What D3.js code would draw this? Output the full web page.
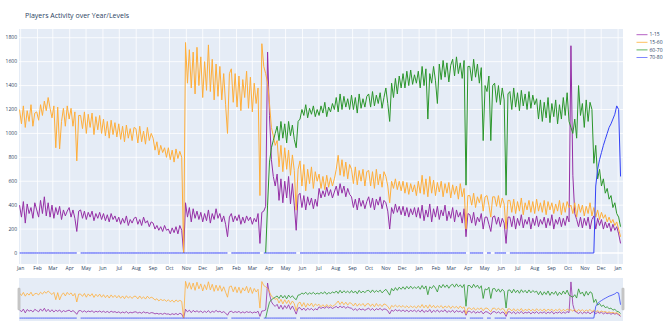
<!DOCTYPE html>
<html><head><meta charset="utf-8">
<script src="https://cdn.jsdelivr.net/npm/d3@7"></script>
<style>body{margin:0;background:#fff}svg{display:block}text{font-family:"Open Sans",sans-serif}</style>
</head><body><svg id="c" width="665" height="327"></svg>
<script>
const chartTitle = "Players Activity over Year/Levels";
const seriesNames = ["1-15", "15-60", "60-70", "70-80"];
const seriesColors = ["#952fa6", "#ffae3a", "#2b962b", "#3342f7"];
const legendColors = ["#b560c4", "#ffc060", "#5fb55f", "#7f88ff"];
const startDate = "2018-12-30";
const stepDays = 3.5;
const seriesStartStep = [0, 0, 129, 0];
const yTicks = [0, 200, 400, 600, 800, 1000, 1200, 1400, 1600, 1800];

const lvl1_15 = [
  400,300,430,250,410,330,380,290,420,
  360,300,440,330,470,310,420,300,
  400,290,380,320,390,280,360,310,350,
  380,300,360,290,180,350,
  360,290,350,280,340,300,350,270,330,290,340,280,
  330,270,320,260,330,280,310,260,
  300,240,290,250,310,230,280,250,290,
  300,240,280,230,300,250,270,220,260,
  250,200,230,190,220,180,230,190,
  200,160,210,170,220,160,230,190,0,
  420,300,380,260,370,290,350,280,340,260,330,270,360,250,330,280,370,290,
  330,260,310,240,136,300,
  330,260,310,270,320,240,300,250,310,270,300,240,290,260,330,80,340,
  350,390,1680,1150,780,640,560,
  660,440,620,420,600,460,640,410,580,400,190,480,
  500,380,480,360,470,400,460,370,450,390,
  540,460,520,470,550,480,530,460,510,
  560,480,580,500,560,470,540,490,
  470,380,450,360,460,390,440,370,430,
  470,380,460,360,450,400,470,370,440,
  420,350,200,380,330,410,340,390,320,
  390,310,380,300,370,320,380,300,
  380,290,400,270,360,300,410,260,370,300,390,280,360,310,400,270,350,290,380,260,360,300,340,250,370,136,330,
  320,250,340,230,300,260,330,200,300,
  300,240,180,300,
  310,240,300,220,290,250,80,300,
  300,220,310,200,290,230,320,210,280,240,300,200,290,230,310,220,280,240,300,210,290,230,320,200,280,240,300,220,290,230,310,260,
  1733,650,330,280,220,300,210,290,230,300,200,280,
  310,200,290,230,280,200,260,210,250,180,240,190,220,160,80
];

const lvl15_60 = [
  1200,1080,1230,1050,1190,1100,1240,1060,1170,
  1180,1110,1240,1150,1270,1190,1300,1210,
  1130,1230,880,1220,870,1100,1210,1060,1230,
  1120,1210,1060,1180,770,1150,
  1150,1040,1180,1000,1160,1050,1170,990,1140,1030,1150,1000,
  1120,980,1100,960,1110,990,1090,970,
  1080,950,1060,930,1070,960,1040,940,1050,
  1040,920,1060,930,1020,910,1050,940,1000,
  960,860,930,820,900,840,880,800,
  880,780,860,760,870,790,850,800,0,
  1760,1420,1700,1380,1680,1330,1720,1400,1640,1300,1600,1360,1740,1350,1620,1280,1580,1310,
  1560,1280,1500,1240,1000,1500,
  1540,1260,1500,1220,1480,1190,1450,1300,1520,1210,1470,1180,1420,1250,1380,480,1750,
  1560,1500,1420,1250,1050,980,900,
  940,720,900,680,880,700,860,650,820,690,358,700,
  770,560,740,520,700,580,720,540,680,600,
  660,540,640,530,650,550,630,560,620,
  700,817,650,780,640,760,620,740,
  700,580,720,570,690,600,700,560,680,
  690,560,680,540,700,570,660,550,680,
  640,560,420,600,540,620,530,600,520,
  600,500,590,490,580,510,570,480,
  600,500,650,490,620,470,640,500,610,480,590,510,600,470,580,500,590,460,570,490,560,450,580,470,540,200,480,
  480,400,500,380,470,420,490,350,470,
  480,400,300,470,
  470,390,480,380,460,410,200,440,
  440,340,450,330,430,350,460,320,420,360,440,340,430,330,450,350,420,340,440,320,430,360,420,330,410,350,440,320,420,340,430,380,
  400,330,420,300,410,340,400,310,390,330,420,310,
  380,300,360,280,340,290,320,260,300,250,280,230,260,200,136
];

const lvl60_70 = [
  0,400,760,880,940,1000,
  1060,940,1100,960,1080,920,1100,980,1070,950,880,1100,
  1120,1200,1150,1240,1130,1210,1160,1230,1140,1200,
  1150,1230,1170,1260,1140,1220,1180,1250,1200,
  1300,1180,1330,1200,1310,1220,1290,1200,
  1320,1200,1300,1170,1330,1210,1290,1220,1310,
  1330,1220,1350,1230,1320,1250,1340,1210,1300,
  1380,1250,1100,1420,1300,1460,1330,1480,1380,
  1500,1380,1520,1400,1530,1410,1490,1420,
  1520,1380,1560,1400,1540,1120,1500,1420,1560,1440,1250,1580,1450,1610,1470,1590,1430,1570,1620,1480,1640,1500,1590,1460,1610,567,1560,
  1560,1440,1620,1470,1580,1420,1550,940,1400,
  1350,1480,940,1400,
  1420,1260,1400,1240,1380,1280,483,1330,
  1350,1200,1380,1220,1340,1190,1360,1230,1330,1200,1350,1210,1320,1240,1290,1120,1280,1100,1260,1130,1300,1090,1250,1140,1280,1080,1240,1120,1300,1150,1340,1100,
  1050,1000,1120,960,1400,1150,1250,1050,1280,1100,1260,1200,
  750,900,620,700,560,620,500,540,450,480,380,420,330,300,220
];

const lvl70_80 = [
  0,0,0,0,0,0,0,0,0,0, 0,0,0,0,0,0,0,0,0,0, 0,0,0,0,0,0,
  0,0,0,0,0,null,
  0,0,0,0,0,0,0,0,0,0, 0,0,0,0,0,0,0,0,0,0, 0,0,0,0,0,0,0,0,0,0, 0,0,0,0,0,0,0,0,0,0, 0,0,0,0,0,0,0,0,0,0, 0,0,0,0,0,
  0,0,0,0,0,0,0,0,0,0, 0,0,0,0,0,0,0,0,
  0,0,0,0,0,null,
  0,0,0,0,0,0,0,0,0,0, 0,0,0,0,0,0,null,
  0,0,0,0,0,0,0,
  0,0,0,0,0,0,0,0,0,0,0,null,
  0,0,0,0,0,0,0,0,0,0, 0,0,0,0,0,0,0,0,0,0, 0,0,0,0,0,0,0,0,0,0, 0,0,0,0,0,0,0,0,0,0, 0,0,0,0,0,0,0,0,0,0, 0,0,0,0,0,0,0,0,0,0, 0,0,
  0,0,0,0,0,0,0,0,0,0, 0,0,0,0,0,0,0,0,0,0, 0,0,0,0,0,0,null,
  0,0,0,0,0,0,0,0,null,
  0,0,0,null,
  0,0,0,0,0,0,0,null,
  0,0,0,0,0,0,0,0,0,0, 0,0,0,0,0,0,0,0,0,0, 0,0,0,0,0,0,0,0,0,0, 0,0,
  0,0,0,0,0,0,0,0,0,0, 0,0,
  0,560,700,780,840,900,950,1000,1050,1080,1120,1160,1230,1200,640
];

const seriesValues = [lvl1_15, lvl15_60, lvl60_70, lvl70_80];

const svg = d3.select("#c");
const P = {l: 19, r: 623, t: 29, b: 264};
const SL = {t: 278, b: 321};
const t0 = d3.utcParse("%Y-%m-%d")(startDate).getTime();
const DAY = 864e5;
const xDomain = [new Date(Date.UTC(2018, 11, 29)), new Date(Date.UTC(2022, 0, 10))];
const x = d3.scaleUtc().domain(xDomain).range([P.l, P.r]);
const yDomain = [-92, 1873];
const y = d3.scaleLinear().domain(yDomain).range([P.b, P.t]);
const ys = d3.scaleLinear().domain(yDomain).range([SL.b - 1, SL.t + 1]);

const series = seriesValues.map((vals, k) => ({
  name: seriesNames[k], color: seriesColors[k], lcolor: legendColors[k],
  pts: vals.map((v, i) => ({d: new Date(t0 + (seriesStartStep[k] + i) * stepDays * DAY), v}))
}));

const txt = "#2a3f5f";
svg.append("text").attr("x", 25).attr("y", 17.5).attr("font-size", 7).attr("fill", txt).text(chartTitle);

svg.append("rect").attr("x", P.l).attr("y", P.t).attr("width", P.r - P.l).attr("height", P.b - P.t).attr("fill", "#E5ECF6");

const months = x.ticks(d3.utcMonth.every(1));
svg.append("g").selectAll("line").data(months).join("line")
  .attr("x1", d => x(d)).attr("x2", d => x(d)).attr("y1", P.t).attr("y2", P.b)
  .attr("stroke", "#fff").attr("stroke-width", 0.8);
svg.append("g").selectAll("line").data(yTicks).join("line")
  .attr("x1", P.l).attr("x2", P.r).attr("y1", d => y(d)).attr("y2", d => y(d))
  .attr("stroke", "#fff").attr("stroke-width", d => d === 0 ? 1.4 : 0.8);

svg.append("g").selectAll("text").data(yTicks).join("text")
  .attr("x", 17).attr("y", d => y(d)).attr("dy", "0.35em").attr("text-anchor", "end")
  .attr("font-size", 5).attr("fill", txt).text(d => d);
const fmt = d3.utcFormat("%b");
svg.append("g").selectAll("text").data(months).join("text")
  .attr("x", d => x(d)).attr("y", 270).attr("text-anchor", "middle")
  .attr("font-size", 5).attr("fill", txt).text(d => fmt(d));

svg.append("clipPath").attr("id", "cm").append("rect")
  .attr("x", P.l).attr("y", P.t).attr("width", P.r - P.l).attr("height", P.b - P.t);

const line = d3.line().defined(p => p.v != null).x(p => x(p.d)).y(p => y(p.v));
const gl = svg.append("g").attr("clip-path", "url(#cm)");
series.forEach(s => {
  gl.append("path").attr("d", line(s.pts)).attr("fill", "none")
    .attr("stroke", s.color).attr("stroke-width", 1).attr("stroke-linejoin", "round");
});

// range slider
svg.append("rect").attr("x", P.l).attr("y", SL.t).attr("width", P.r - P.l).attr("height", SL.b - SL.t).attr("fill", "#E5ECF6");
const lineS = d3.line().defined(p => p.v != null).x(p => x(p.d)).y(p => ys(p.v));
const gs = svg.append("g");
series.forEach(s => {
  gs.append("path").attr("d", lineS(s.pts)).attr("fill", "none")
    .attr("stroke", s.color).attr("stroke-width", 0.8);
});
[P.l, P.r].forEach(hx => {
  svg.append("rect").attr("x", hx - 1.2).attr("y", 288).attr("width", 2.4).attr("height", 22)
    .attr("rx", 0.8).attr("fill", "#c8c8c8").attr("stroke", "#aaa").attr("stroke-width", 0.3);
});

// legend
const lg = svg.append("g");
series.forEach((s, k) => {
  const ly = 34.7 + k * 7.6;
  lg.append("line").attr("x1", 636.5).attr("x2", 647.5).attr("y1", ly).attr("y2", ly)
    .attr("stroke", s.lcolor).attr("stroke-width", 1);
  lg.append("text").attr("x", 649.5).attr("y", ly).attr("dy", "0.35em")
    .attr("font-size", 5).attr("fill", txt).text(s.name);
});
</script></body></html>
